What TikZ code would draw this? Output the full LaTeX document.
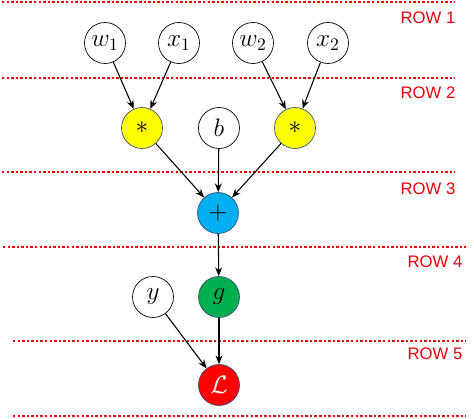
\documentclass[tikz,border=0pt]{standalone}
\usepackage{fontspec}
\newfontfamily\rowfont{Liberation Sans}
\usetikzlibrary{arrows.meta}
\definecolor{rowred}{RGB}{235,0,10}
\definecolor{opyellow}{RGB}{255,255,0}
\definecolor{opblue}{RGB}{0,176,240}
\definecolor{opgreen}{RGB}{0,176,80}
\definecolor{opred}{RGB}{255,0,0}
\definecolor{opline}{RGB}{60,75,120}
\begin{document}
\begin{tikzpicture}[x=0.02cm,y=-0.02cm,
    var/.style={circle,draw=black,fill=white,minimum size=0.82cm,inner sep=0pt,
      font=\fontsize{14}{16}\selectfont},
    op/.style={var,draw=opline,fill=#1},
    sep/.style={rowred,line width=1.3pt,dash pattern=on 1.4pt off 1.2pt},
    rowlabel/.style={text=rowred,font=\rowfont\fontsize{9.5}{11}\selectfont},
    >={Stealth[length=5pt,width=4pt]}]
  \useasboundingbox (0,0) rectangle (474,419);
  % separators between the rows
  \draw[sep] (2,2) -- (455,2);
  \draw[sep] (2,78) -- (455,78);
  \draw[sep] (2,172) -- (455,172);
  \draw[sep] (3,247) -- (466,247);
  \draw[sep] (13,341) -- (466,341);
  \draw[sep] (13,416) -- (466,416);
  \path
    (428,18) node[rowlabel] (r1){ROW 1}
    (428,93) node[rowlabel] (r2){ROW 2}
    (428,189) node[rowlabel] (r3){ROW 3}
    (435,262) node[rowlabel] (r4){ROW 4}
    (435,354) node[rowlabel] (r5){ROW 5};
  % graph
  \draw
    (105,43) node[var] (w1){$w_1$}
    (179,43) node[var] (x1){$x_1$}
    (253,43) node[var] (w2){$w_2$}
    (328,43) node[var] (x2){$x_2$}
    (142,128) node[op=opyellow] (m1){$*$}
    (219,128) node[var] (b){$b$}
    (295,128) node[op=opyellow] (m2){$*$}
    (218,213) node[op=opblue] (s){$+$}
    (153,297) node[var] (y){$y$}
    (219,297) node[op=opgreen] (g){$g$}
    (219,385) node[op=opred,text=white] (L){$\mathcal{L}$};
  \begin{scope}[->,semithick]
    \draw (w1) to (m1);
    \draw (x1) to (m1);
    \draw (w2) to (m2);
    \draw (x2) to (m2);
    \draw (m1) to (s);
    \draw (b) to (s);
    \draw (m2) to (s);
    \draw (s) to (g);
    \draw (g) to (L);
    \draw (y) to (L);
  \end{scope}
\end{tikzpicture}
\end{document}
